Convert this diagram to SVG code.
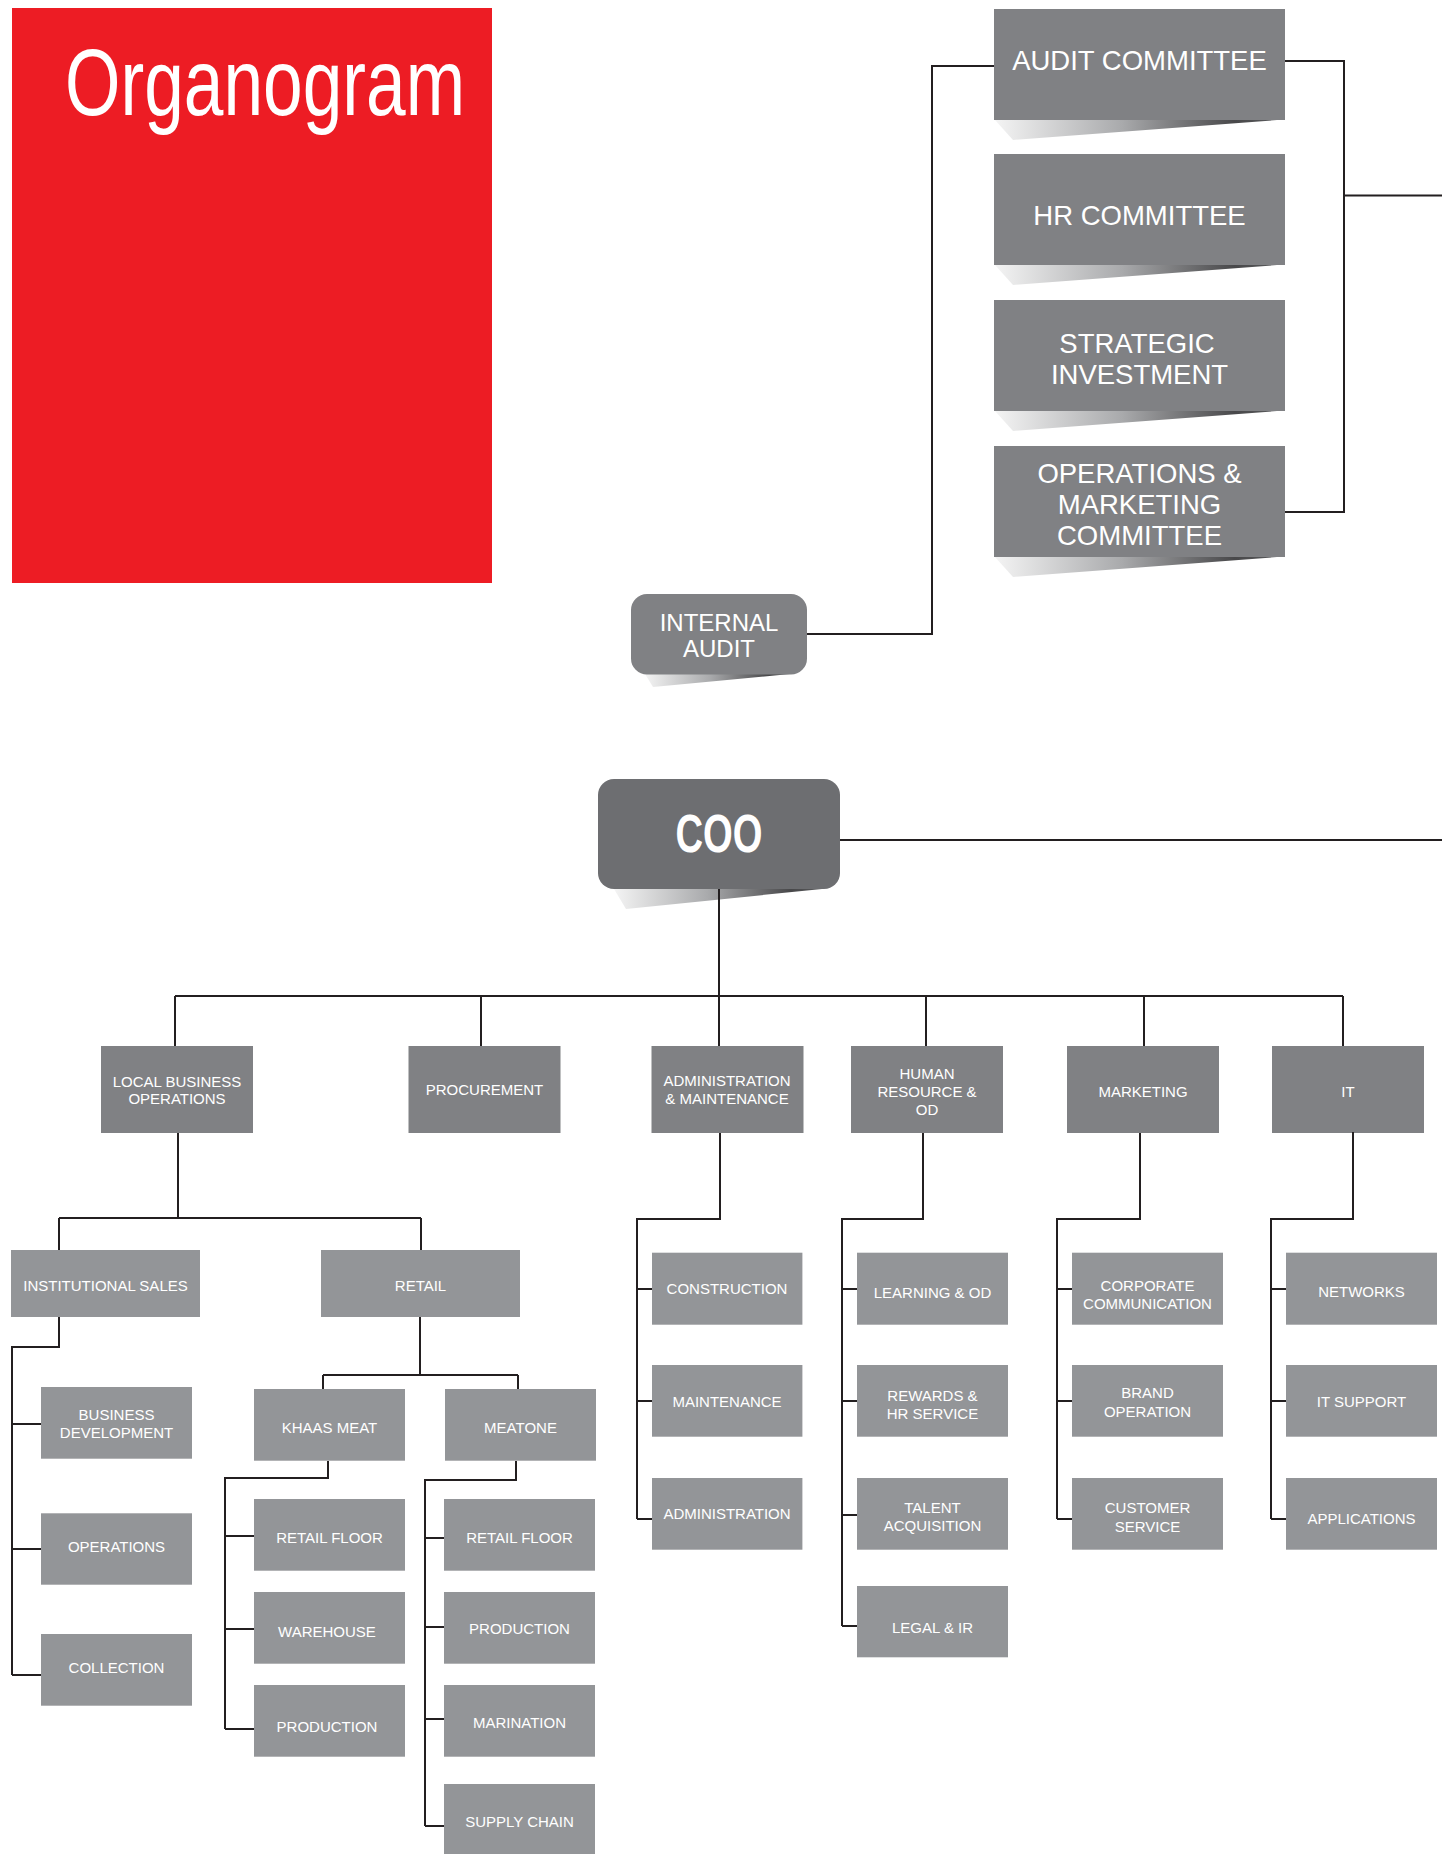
<svg xmlns="http://www.w3.org/2000/svg" width="1442" height="1854" viewBox="0 0 1442 1854">
<style>
.b1{fill:#808184}
.b2{fill:#939598}
.coo{fill:#6d6e71}
.ln{stroke:#231f20;stroke-width:2;fill:none}
.sh{fill:url(#shg)}
text{font-family:"Liberation Sans",Arial,sans-serif;fill:#fff;text-anchor:middle}
.tb{font-size:27.5px}
.ti{font-size:24px}
.ts{font-size:15px}
</style>
<defs>
<linearGradient id="shg" x1="0" y1="0" x2="1" y2="0">
<stop offset="0" stop-color="#f4f4f4"/>
<stop offset="0.45" stop-color="#a9aaac"/>
<stop offset="0.85" stop-color="#48484a"/>
<stop offset="1" stop-color="#5a5b5d"/>
</linearGradient>
</defs>
<rect x="12" y="8" width="480" height="575" fill="#ed1c24"/>
<text x="65" y="115" style="font-size:94px;text-anchor:start" textLength="400" lengthAdjust="spacingAndGlyphs">Organogram</text>

<g id="audit-committee"><polygon class="sh" points="995,120 1013,140 1277,120"/><rect class="b1" x="994" y="9" width="291" height="111"/><text class="tb" x="1139.5" y="70">AUDIT COMMITTEE</text></g>
<g id="hr-committee"><polygon class="sh" points="995,265 1013,285 1277,265"/><rect class="b1" x="994" y="154" width="291" height="111"/><text class="tb" x="1139.5" y="225">HR COMMITTEE</text></g>
<g id="strategic-investment"><polygon class="sh" points="995,411 1013,431 1277,411"/><rect class="b1" x="994" y="300" width="291" height="111"/><text class="tb" x="1137" y="353">STRATEGIC</text><text class="tb" x="1139.5" y="383.5">INVESTMENT</text></g>
<g id="ops-marketing-committee"><polygon class="sh" points="995,557 1013,577 1277,557"/><rect class="b1" x="994" y="446" width="291" height="111"/><text class="tb" x="1139.5" y="483">OPERATIONS &amp;</text><text class="tb" x="1139.5" y="514">MARKETING</text><text class="tb" x="1139.5" y="544.5">COMMITTEE</text></g>

<g id="internal-audit"><polygon class="sh" points="645,674 653,687 790,674"/><rect class="b1" x="631" y="594" width="176" height="80.5" rx="16"/><text class="ti" x="719" y="631">INTERNAL</text><text class="ti" x="719" y="657">AUDIT</text></g>

<g id="coo"><polygon class="sh" points="614,889 626,909 822,889"/><rect class="coo" x="598" y="779" width="242" height="110" rx="16"/><text x="719" y="851.7" style="font-size:53px;font-weight:bold" textLength="87" lengthAdjust="spacingAndGlyphs">COO</text></g>

<g id="local-business-operations"><rect class="b1" x="101" y="1046" width="152" height="87"/><text class="ts" x="177" y="1086.7">LOCAL BUSINESS</text><text class="ts" x="177" y="1104">OPERATIONS</text></g>
<g id="procurement"><rect class="b1" x="408.5" y="1046" width="152" height="87"/><text class="ts" x="484.5" y="1095">PROCUREMENT</text></g>
<g id="admin-maintenance"><rect class="b1" x="651.5" y="1046" width="152" height="87"/><text class="ts" x="727" y="1086">ADMINISTRATION</text><text class="ts" x="727" y="1104">&amp; MAINTENANCE</text></g>
<g id="human-resource"><rect class="b1" x="851" y="1046" width="152" height="87"/><text class="ts" x="927" y="1079.3">HUMAN</text><text class="ts" x="927" y="1097.3">RESOURCE &amp;</text><text class="ts" x="927" y="1115">OD</text></g>
<g id="marketing"><rect class="b1" x="1067" y="1046" width="152" height="87"/><text class="ts" x="1143" y="1096.7">MARKETING</text></g>
<g id="it"><rect class="b1" x="1272" y="1046" width="152" height="87"/><text class="ts" x="1348" y="1096.7">IT</text></g>

<g id="institutional-sales"><rect class="b2" x="11" y="1250" width="189" height="67"/><text class="ts" x="105.5" y="1290.7">INSTITUTIONAL SALES</text></g>
<g id="retail"><rect class="b2" x="321" y="1250" width="199" height="67"/><text class="ts" x="420.5" y="1290.7">RETAIL</text></g>
<g id="business-development"><rect class="b2" x="41" y="1387" width="151" height="71.7"/><text class="ts" x="116.5" y="1420">BUSINESS</text><text class="ts" x="116.5" y="1438.3">DEVELOPMENT</text></g>
<g id="operations"><rect class="b2" x="41" y="1513.3" width="151" height="71.4"/><text class="ts" x="116.5" y="1552.3">OPERATIONS</text></g>
<g id="collection"><rect class="b2" x="41" y="1634" width="151" height="71.7"/><text class="ts" x="116.5" y="1673.3">COLLECTION</text></g>
<g id="khaas-meat"><rect class="b2" x="254" y="1389" width="151" height="71.7"/><text class="ts" x="329.5" y="1433.3">KHAAS MEAT</text></g>
<g id="meatone"><rect class="b2" x="445" y="1389" width="151" height="71.7"/><text class="ts" x="520.5" y="1433.3">MEATONE</text></g>
<g id="km-retail-floor"><rect class="b2" x="254" y="1499" width="151" height="71.7"/><text class="ts" x="329.5" y="1543.3">RETAIL FLOOR</text></g>
<g id="km-warehouse"><rect class="b2" x="254" y="1592" width="151" height="71.7"/><text class="ts" x="327" y="1637.3">WAREHOUSE</text></g>
<g id="km-production"><rect class="b2" x="254" y="1685" width="151" height="71.7"/><text class="ts" x="327" y="1732.3">PRODUCTION</text></g>
<g id="mo-retail-floor"><rect class="b2" x="444" y="1499" width="151" height="71.7"/><text class="ts" x="519.5" y="1543.3">RETAIL FLOOR</text></g>
<g id="mo-production"><rect class="b2" x="444" y="1592" width="151" height="71.7"/><text class="ts" x="519.5" y="1634.3">PRODUCTION</text></g>
<g id="mo-marination"><rect class="b2" x="444" y="1685" width="151" height="71.7"/><text class="ts" x="519.5" y="1727.7">MARINATION</text></g>
<g id="mo-supply-chain"><rect class="b2" x="444" y="1784" width="151" height="70"/><text class="ts" x="519.5" y="1826.7">SUPPLY CHAIN</text></g>

<g id="construction"><rect class="b2" x="652" y="1252.7" width="150.4" height="72"/><text class="ts" x="727" y="1294.3">CONSTRUCTION</text></g>
<g id="maintenance"><rect class="b2" x="652" y="1365" width="150.4" height="71.7"/><text class="ts" x="727" y="1407.3">MAINTENANCE</text></g>
<g id="administration"><rect class="b2" x="652" y="1478" width="150.4" height="71.7"/><text class="ts" x="727" y="1519.3">ADMINISTRATION</text></g>

<g id="learning-od"><rect class="b2" x="857" y="1252.7" width="151" height="72"/><text class="ts" x="932.5" y="1297.7">LEARNING &amp; OD</text></g>
<g id="rewards-hr-service"><rect class="b2" x="857" y="1365" width="151" height="71.7"/><text class="ts" x="932.5" y="1400.7">REWARDS &amp;</text><text class="ts" x="932.5" y="1419.3">HR SERVICE</text></g>
<g id="talent-acquisition"><rect class="b2" x="857" y="1478" width="151" height="71.7"/><text class="ts" x="932.5" y="1512.7">TALENT</text><text class="ts" x="932.5" y="1531">ACQUISITION</text></g>
<g id="legal-ir"><rect class="b2" x="857" y="1586" width="151" height="71.3"/><text class="ts" x="932.5" y="1632.7">LEGAL &amp; IR</text></g>

<g id="corporate-communication"><rect class="b2" x="1072" y="1252.7" width="151" height="72"/><text class="ts" x="1147.5" y="1291">CORPORATE</text><text class="ts" x="1147.5" y="1309.3">COMMUNICATION</text></g>
<g id="brand-operation"><rect class="b2" x="1072" y="1365" width="151" height="71.7"/><text class="ts" x="1147.5" y="1398.3">BRAND</text><text class="ts" x="1147.5" y="1416.7">OPERATION</text></g>
<g id="customer-service"><rect class="b2" x="1072" y="1478" width="151" height="71.7"/><text class="ts" x="1147.5" y="1513.3">CUSTOMER</text><text class="ts" x="1147.5" y="1531.7">SERVICE</text></g>

<g id="networks"><rect class="b2" x="1286" y="1252.7" width="151" height="72"/><text class="ts" x="1361.5" y="1296.7">NETWORKS</text></g>
<g id="it-support"><rect class="b2" x="1286" y="1365" width="151" height="71.7"/><text class="ts" x="1361.5" y="1406.7">IT SUPPORT</text></g>
<g id="applications"><rect class="b2" x="1286" y="1478" width="151" height="71.7"/><text class="ts" x="1361.5" y="1524">APPLICATIONS</text></g>

<g id="connectors">
<path class="ln" d="M1285,61 H1344 V512 H1285 M1344,195.5 H1442"/>
<path class="ln" d="M994,66 H932 V634 H807"/>
<path class="ln" d="M840,840 H1442"/>
<path class="ln" d="M719,889 V996 M175,996 H1343 M175,996 V1046 M481,996 V1046 M719,996 V1046 M926,996 V1046 M1144,996 V1046 M1343,996 V1046"/>
<path class="ln" d="M178,1133 V1218 M59,1218 H421 M59,1218 V1250 M421,1218 V1250"/>
<path class="ln" d="M59,1317 V1347 H12 V1675 M12,1424 H41 M12,1549 H41 M12,1675 H41"/>
<path class="ln" d="M420,1317 V1375 M323,1375 H518 M323,1375 V1389 M518,1375 V1389"/>
<path class="ln" d="M328,1461 V1478 H225 V1729 M225,1536 H254 M225,1629 H254 M225,1729 H254"/>
<path class="ln" d="M516,1461 V1480 H425 V1826 M425,1538 H444 M425,1627 H444 M425,1719 H444 M425,1826 H444"/>
<path class="ln" d="M720,1133 V1219 H637 V1519 M637,1289 H652 M637,1401 H652 M637,1519 H652"/>
<path class="ln" d="M923,1133 V1219 H842 V1626 M842,1289 H857 M842,1401 H857 M842,1515 H857 M842,1626 H857"/>
<path class="ln" d="M1140,1133 V1219 H1057 V1519 M1057,1289 H1072 M1057,1401 H1072 M1057,1519 H1072"/>
<path class="ln" d="M1353,1132 V1219 H1271 V1519 M1271,1289 H1286 M1271,1401 H1286 M1271,1519 H1286"/>
</g>
</svg>
